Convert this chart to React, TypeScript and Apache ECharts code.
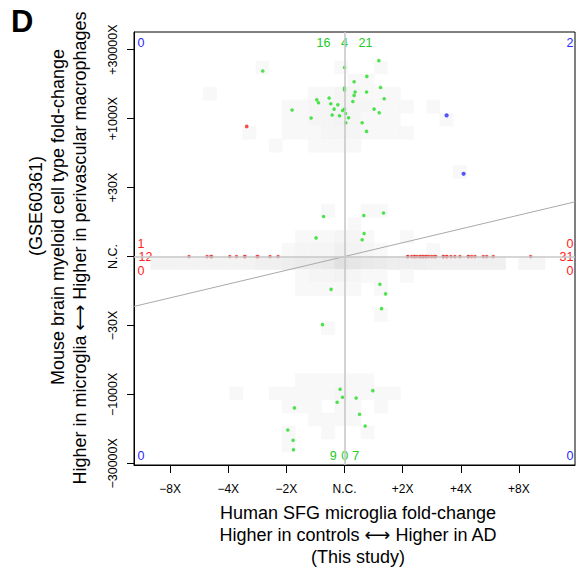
import React, { useEffect, useRef } from "react";
import * as echarts from "echarts";

// ---------- axis ticks (log2 fold-change units) ----------
const X_TICK_VALUES = [-3, -2, -1, 0, 1, 2, 3];
const X_TICK_LABELS = ["\u22128X", "\u22124X", "\u22122X", "N.C.", "+2X", "+4X", "+8X"];
const Y_TICK_VALUES = [-15, -10, -5, 0, 5, 10, 15];
const Y_TICK_LABELS = ["\u221230000X", "\u22121000X", "\u221230X", "N.C.", "+30X", "+1000X", "+30000X"];
const X_RANGE = [-3.621, 3.964];
const Y_RANGE = [-15.12, 16.28];

// ---------- data (x = human log2FC, y = mouse log2FC) ----------
const GREEN_POINTS: [number, number][] = [
  [0.59, 14.2], [-1.406, 13.45], [0, 13.71], [0.384, 13.06], [0.165, 12.67],
  [0, 12.22], [0, 12.07], [0.182, 11.93], [0.379, 11.93], [0.62, 12.26],
  [0.165, 11.68], [0.682, 11.44], [-0.265, 11.49], [-0.477, 11.37], [-0.448, 11.15],
  [0.143, 11.24], [-0.236, 11.08], [-0.115, 11.0], [-0.179, 10.69], [0, 10.69],
  [-0.034, 10.59], [-0.902, 10.62], [0.509, 10.69], [0.596, 10.42], [0.017, 10.37],
  [-0.213, 10.26], [-0.086, 10.21], [0.069, 10.06], [-0.575, 10.04], [0.022, 9.7],
  [0.303, 9.7], [0.379, 9.07],
  [-0.361, 2.9], [0.332, 2.97], [0.671, 3.15], [-0.489, 1.35], [0.337, 1.67], [0.303, 1.21],
  [-0.231, -2.38], [0.608, -2.01], [0.706, -2.71], [0.637, -3.78], [-0.379, -4.94],
  [-0.076, -9.63], [0.487, -9.73], [-0.034, -10.21], [0.2, -10.26], [-0.127, -10.57],
  [-0.861, -10.98], [0.258, -11.44], [0.355, -12.29], [-0.976, -12.58], [-0.885, -13.33],
  [-0.878, -14.01],
];
const RED_ZERO_X = [
  -2.675, -2.365, -2.284, -2.3, -1.974, -1.859, -1.711, -1.72, -1.504, -1.49, -1.281, -1.143,
  1.084, 1.09, 1.153, 1.198, 1.21, 1.25, 1.296, 1.31, 1.343, 1.36, 1.399, 1.41, 1.451, 1.497,
  1.542, 1.571, 1.697, 1.7, 1.756, 1.76, 1.83, 1.898, 1.985, 2.127, 2.13, 2.186, 2.243, 2.386,
  2.444, 2.558, 3.201,
];
const RED_POINTS: [number, number][] = [[-1.682, 9.43]];
const BLUE_POINTS: [number, number][] = [[1.756, 10.23], [2.048, 6.0]];
const FIT_SLOPE = 1.0;

// 2-D histogram of all genes: [xBin, yBin, count]
const DENSITY_CELLS: [number, number, number][] = [
  [-7, 14, 1], [-1, 14, 1], [2, 14, 1],
  [0, 13, 1], [1, 13, 1],
  [-11, 12, 1], [-3, 12, 1], [-2, 12, 1], [-1, 12, 2], [0, 12, 2], [1, 12, 1], [2, 12, 1], [3, 12, 1],
  [-5, 11, 1], [-4, 11, 1], [-3, 11, 2], [-2, 11, 2], [-1, 11, 2], [0, 11, 2], [1, 11, 2], [2, 11, 1], [3, 11, 1], [4, 11, 1], [6, 11, 1],
  [-5, 10, 1], [-4, 10, 1], [-3, 10, 2], [-2, 10, 2], [-1, 10, 3], [0, 10, 2], [1, 10, 1], [2, 10, 1], [3, 10, 1], [7, 10, 1],
  [-8, 9, 1], [-5, 9, 1], [-4, 9, 1], [-3, 9, 1], [-2, 9, 2], [-1, 9, 2], [0, 9, 2], [1, 9, 1], [2, 9, 1], [3, 9, 1], [4, 9, 1],
  [-6, 8, 1], [-3, 8, 1], [-2, 8, 1], [-1, 8, 1], [0, 8, 1],
  [8, 6, 1],
  [-2, 3, 1], [1, 3, 1], [2, 3, 1],
  [0, 2, 1],
  [-4, 1, 1], [-3, 1, 1], [-2, 1, 1], [-1, 1, 2], [0, 1, 2], [1, 1, 1], [4, 1, 1],
  [-5, 0, 1], [-4, 0, 2], [-3, 0, 2], [-2, 0, 2], [-1, 0, 4], [0, 0, 3], [1, 0, 2], [2, 0, 1], [6, 0, 1],
  [-15, -1, 3], [-14, -1, 3], [-13, -1, 3], [-12, -1, 3], [-11, -1, 3], [-10, -1, 3], [-9, -1, 3], [-8, -1, 3],
  [-7, -1, 4], [-6, -1, 4], [-5, -1, 5], [-4, -1, 6], [-3, -1, 6], [-2, -1, 7], [-1, -1, 10], [0, -1, 8],
  [1, -1, 7], [2, -1, 6], [3, -1, 5], [4, -1, 5], [5, -1, 5], [6, -1, 4], [7, -1, 4], [8, -1, 4],
  [9, -1, 4], [10, -1, 4], [11, -1, 4], [13, -1, 2], [14, -1, 2],
  [-4, -2, 1], [-3, -2, 2], [-2, -2, 2], [-1, -2, 3], [0, -2, 2], [1, -2, 1], [2, -2, 1], [4, -2, 1],
  [-4, -3, 1], [-3, -3, 1], [-2, -3, 1], [-1, -3, 1], [0, -3, 1], [2, -3, 1],
  [2, -5, 1],
  [-2, -6, 1],
  [-4, -10, 1], [-3, -10, 1], [-2, -10, 1], [-1, -10, 1], [0, -10, 1], [1, -10, 1],
  [-9, -11, 1], [-6, -11, 1], [-5, -11, 1], [-4, -11, 1], [-3, -11, 1], [-2, -11, 1], [-1, -11, 2], [0, -11, 1], [1, -11, 1], [2, -11, 1], [3, -11, 1],
  [-5, -12, 1], [-4, -12, 1], [-3, -12, 1], [-1, -12, 1], [0, -12, 1], [2, -12, 1],
  [-3, -13, 1], [-2, -13, 1], [-1, -13, 1], [0, -13, 1],
  [-5, -14, 1], [-2, -14, 1], [1, -14, 1],
  [-5, -15, 1],
];
const BIN_X0 = 0.058;
const BIN_W = 0.226;
const BIN_H = 0.945;

// quadrant counts
const COUNT_TOP = ["16", "4", "21"];
const COUNT_BOTTOM = ["9", "0", "7"];
const COUNT_LEFT = ["1", "12", "0"];
const COUNT_RIGHT = ["0", "31", "0"];
const COUNT_CORNERS = ["0", "2", "0", "0"]; // TL, TR, BL, BR

const FONT = '"Liberation Sans", Arial, Helvetica, "DejaVu Sans", sans-serif';
const GREEN = "#22cc22";
const RED = "#ff2020";
const BLUE = "#2a2aff";

function txt(x: number, y: number, text: string, fill: string, size: number, align = "center", extra: any = {}) {
  return {
    type: "text",
    x,
    y,
    silent: true,
    ...extra,
    style: {
      text,
      fill,
      fontSize: size,
      fontFamily: FONT,
      textAlign: align,
      textVerticalAlign: "middle",
      align,
      verticalAlign: "middle",
      ...(extra.style || {}),
    },
  };
}

export default function App() {
  const ref = useRef<HTMLDivElement>(null);
  useEffect(() => {
    const chart = echarts.init(ref.current!, null, { renderer: "svg" });
    const densityData = DENSITY_CELLS.map(([i, j, c]) => [BIN_X0 + (i + 0.5) * BIN_W, (j + 0.5) * BIN_H, c]);

    const graphic: any[] = [
      txt(11, 21, "D", "#000", 31, "left", { style: { fontWeight: "bold" } }),
      // x title
      txt(358, 513, "Human SFG microglia fold-change", "#000", 18),
      txt(358, 535, "Higher in controls \u27F7 Higher in AD", "#000", 18),
      txt(358, 557, "(This study)", "#000", 18),
      // y title (rotated)
      txt(80, 248, "Higher in microglia \u27F7 Higher in perivascular macrophages", "#000", 18, "center", { rotation: Math.PI / 2 }),
      txt(58, 217, "Mouse brain myeloid cell type fold-change", "#000", 18, "center", { rotation: Math.PI / 2 }),
      txt(36, 206, "(GSE60361)", "#000", 18, "center", { rotation: Math.PI / 2 }),
      // counts
      txt(323.5, 43, COUNT_TOP[0], GREEN, 12.5),
      txt(344.5, 43, COUNT_TOP[1], GREEN, 12.5),
      txt(365.5, 43, COUNT_TOP[2], GREEN, 12.5),
      txt(333.3, 455.5, COUNT_BOTTOM[0], GREEN, 12.5),
      txt(344.7, 455.5, COUNT_BOTTOM[1], GREEN, 12.5),
      txt(355.7, 455.5, COUNT_BOTTOM[2], GREEN, 12.5),
      txt(137.5, 243.5, COUNT_LEFT[0], RED, 12.5, "left"),
      txt(138.5, 257, COUNT_LEFT[1], RED, 12.5, "left"),
      txt(137.5, 270.5, COUNT_LEFT[2], RED, 12.5, "left"),
      txt(573.5, 243.5, COUNT_RIGHT[0], RED, 12.5, "right"),
      txt(573.5, 257, COUNT_RIGHT[1], RED, 12.5, "right"),
      txt(573.5, 270.5, COUNT_RIGHT[2], RED, 12.5, "right"),
      txt(137.5, 43, COUNT_CORNERS[0], BLUE, 12.5, "left"),
      txt(573.5, 43, COUNT_CORNERS[1], BLUE, 12.5, "right"),
      txt(137.5, 455.5, COUNT_CORNERS[2], BLUE, 12.5, "left"),
      txt(573.5, 455.5, COUNT_CORNERS[3], BLUE, 12.5, "right"),
    ];

    const option: any = {
      animation: false,
      backgroundColor: "#fff",
      textStyle: { fontFamily: FONT },
      grid: {
        left: 134, right: 1, top: 32, bottom: 104,
        show: true, borderColor: "#000", borderWidth: 1, backgroundColor: "transparent",
        containLabel: false, outerBoundsMode: "none",
      },
      xAxis: {
        type: "value", min: X_RANGE[0], max: X_RANGE[1],
        splitLine: { show: false },
        axisLine: { show: true, onZero: false, lineStyle: { color: "#000", width: 1 } },
        axisTick: { show: true, customValues: X_TICK_VALUES, length: 8, lineStyle: { color: "#000", width: 1 } },
        axisLabel: {
          customValues: X_TICK_VALUES,
          formatter: (v: number) => X_TICK_LABELS[X_TICK_VALUES.indexOf(Math.round(v))] ?? "",
          fontSize: 12, color: "#000", margin: 18, fontFamily: FONT, hideOverlap: false,
        },
      },
      yAxis: {
        type: "value", min: Y_RANGE[0], max: Y_RANGE[1],
        splitLine: { show: false },
        axisLine: { show: true, onZero: false, lineStyle: { color: "#000", width: 1 } },
        axisTick: { show: true, customValues: Y_TICK_VALUES, length: 7, lineStyle: { color: "#000", width: 1 } },
        axisLabel: { show: false },
      },
      series: [
        {
          type: "custom",
          silent: true,
          clip: true,
          z: 1,
          data: densityData,
          renderItem: (params: any, api: any) => {
            const cx = api.value(0);
            const cy = api.value(1);
            const c = api.value(2);
            const p0 = api.coord([cx - BIN_W / 2, cy + BIN_H / 2]);
            const p1 = api.coord([cx + BIN_W / 2, cy - BIN_H / 2]);
            const g = Math.round(Math.max(215, 250 - 2.5 * c));
            const col = `rgb(${g},${g},${g})`;
            return {
              type: "rect",
              shape: { x: p0[0], y: p0[1], width: p1[0] - p0[0], height: p1[1] - p0[1] },
              style: { fill: col, stroke: col, lineWidth: 0.6 },
            };
          },
        },
        {
          type: "line",
          silent: true,
          z: 2,
          symbol: "none",
          clip: true,
          data: [
            [X_RANGE[0], FIT_SLOPE * X_RANGE[0]],
            [X_RANGE[1], FIT_SLOPE * X_RANGE[1]],
          ],
          lineStyle: { color: "#a9a9a9", width: 1 },
          markLine: {
            silent: true,
            symbol: ["none", "none"],
            label: { show: false },
            lineStyle: { color: "#c8c8c8", width: 1.6, type: "solid" },
            data: [{ xAxis: 0 }, { yAxis: 0 }],
          },
        },
        {
          type: "scatter", silent: true, z: 3,
          data: RED_ZERO_X.map((x) => [x, 0]),
          symbolSize: 3.4,
          itemStyle: { color: "#e83c3c", opacity: 0.85 },
        },
        {
          type: "scatter", silent: true, z: 4,
          data: GREEN_POINTS,
          symbolSize: 3.6,
          itemStyle: { color: "#22dd22" },
        },
        {
          type: "scatter", silent: true, z: 4,
          data: RED_POINTS,
          symbolSize: 3.8,
          itemStyle: { color: "#f02020" },
        },
        {
          type: "scatter", silent: true, z: 4,
          data: BLUE_POINTS,
          symbolSize: 4.2,
          itemStyle: { color: "#2a2aff" },
        },
      ],
      graphic,
    };
    chart.setOption(option);

    // y tick labels, rotated, placed at the axis' own tick positions
    const yLabels = Y_TICK_VALUES.map((v, k) => {
      const p = chart.convertToPixel({ gridIndex: 0 }, [0, v]) as number[];
      return txt(113, p[1], Y_TICK_LABELS[k], "#000", 12.5, "center", { rotation: Math.PI / 2 });
    });
    chart.setOption({ graphic: [...graphic, ...yLabels] });

    return () => chart.dispose();
  }, []);
  return (
    <div
      ref={ref}
      style={{ position: "fixed", left: 0, top: 0, width: 576, height: 569, background: "#fff" }}
    />
  );
}
